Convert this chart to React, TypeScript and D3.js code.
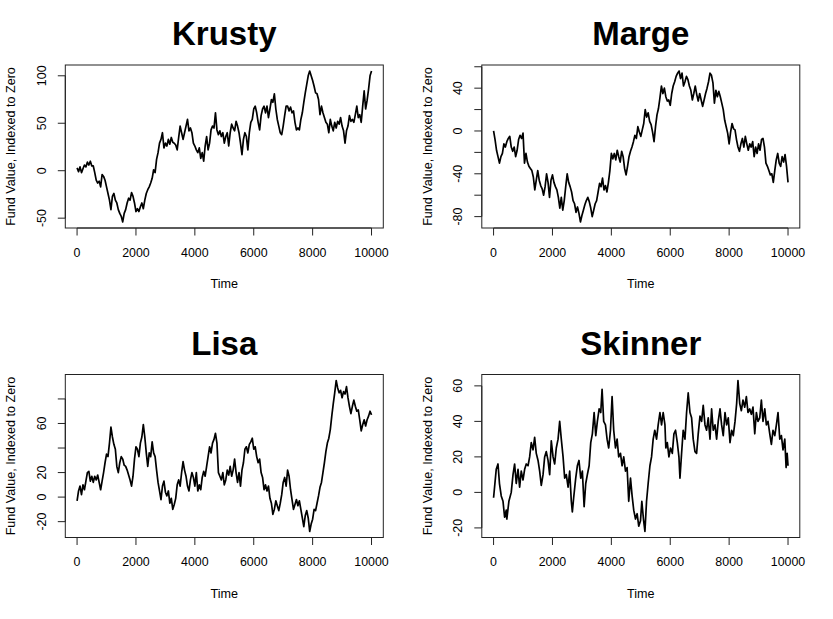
import { useEffect, useRef } from 'react';
import * as d3 from 'd3';

const krusty = [
  3, -1, 4, -2, 2, 6, 4, 9, 6, 10,
  5, 5, -2, -10, -13, -11, -17, -4, -6, -10,
  -17, -24, -31, -41, -27, -24, -31, -34, -41, -45,
  -48, -54, -45, -41, -34, -29, -31, -23, -27, -34,
  -43, -40, -43, -38, -34, -40, -31, -24, -20, -17,
  -13, -8, 1, -2, 12, 19, 29, 33, 40, 24,
  29, 26, 33, 28, 35, 30, 29, 27, 22, 35,
  47, 40, 33, 40, 47, 54, 42, 45, 40, 29,
  26, 22, 19, 24, 13, 19, 10, 26, 36, 22,
  29, 43, 47, 45, 61, 43, 38, 42, 36, 40,
  29, 36, 40, 26, 40, 49, 45, 42, 52, 47,
  40, 29, 17, 33, 40, 36, 22, 40, 51, 54,
  65, 68, 61, 51, 43, 58, 65, 68, 61, 68,
  56, 65, 75, 72, 81, 65, 54, 47, 40, 38,
  47, 58, 68, 68, 63, 67, 61, 63, 51, 43,
  45, 43, 54, 61, 72, 82, 91, 100, 105, 100,
  95, 89, 82, 81, 75, 59, 68, 61, 56, 51,
  49, 40, 54, 47, 42, 51, 45, 52, 49, 56,
  47, 42, 29, 42, 47, 58, 52, 54, 51, 59,
  68, 56, 59, 51, 68, 84, 65, 74, 86, 100,
  105,
];

const marge = [
  0, -8, -18, -24, -30, -24, -21, -12, -15, -10,
  -7, -5, -15, -19, -15, -24, -18, -8, -4, -7,
  -2, -30, -21, -29, -33, -35, -37, -43, -55, -46,
  -37, -46, -51, -54, -60, -52, -40, -48, -62, -46,
  -41, -48, -52, -55, -62, -72, -62, -74, -65, -52,
  -40, -48, -52, -57, -65, -68, -76, -71, -77, -85,
  -79, -74, -69, -65, -62, -66, -72, -80, -74, -68,
  -65, -57, -49, -52, -44, -55, -51, -57, -48, -37,
  -21, -26, -21, -27, -18, -24, -29, -19, -24, -35,
  -41, -33, -24, -19, -15, -10, -4, -7, 4, -1,
  -5, 1, 7, 20, 13, 17, 9, 6, -1, -10,
  4, 15, 21, 31, 42, 35, 40, 32, 28, 29,
  24, 35, 42, 46, 51, 54, 56, 49, 54, 42,
  46, 51, 48, 42, 38, 29, 35, 42, 34, 28,
  35, 29, 23, 29, 35, 40, 46, 54, 52, 45,
  26, 38, 32, 37, 32, 26, 20, 10, 4, -2,
  -12, -1, 7, 2, 1, -8, -15, -19, -12, -7,
  -15, -5, -12, -18, -12, -15, -10, -24, -15, -21,
  -12, -18, -8, -7, -15, -30, -33, -37, -41, -40,
  -48, -37, -27, -21, -30, -33, -24, -29, -22, -33,
  -48,
];

const lisa = [
  -3, 5, 9, 2, 10, 6, 13, 20, 21, 13,
  17, 12, 17, 14, 18, 12, 6, 13, 20, 28,
  35, 33, 44, 57, 49, 43, 39, 25, 20, 28,
  33, 31, 26, 25, 22, 18, 14, 9, 17, 31,
  41, 39, 33, 44, 49, 59, 49, 36, 25, 36,
  33, 45, 36, 33, 22, 12, 5, -2, 9, 13,
  4, 1, 5, -5, -1, -10, -6, -1, 10, 14,
  9, 20, 29, 22, 17, 9, 5, 14, 20, 16,
  9, 20, 5, 10, 6, 16, 21, 17, 25, 33,
  41, 36, 44, 47, 52, 44, 20, 17, 14, 20,
  10, 14, 22, 18, 25, 17, 22, 31, 20, 12,
  20, 9, 22, 28, 39, 41, 36, 43, 45, 48,
  39, 41, 33, 28, 31, 20, 16, 6, 10, 5,
  9, -1, -5, -14, -10, -3, -7, -11, -5, 2,
  12, 16, 9, 22, 17, 6, -2, -10, -6, -2,
  -7, -3, -10, -17, -24, -15, -11, -17, -28, -22,
  -18, -10, -11, -5, 1, 8, 12, 20, 28, 37,
  44, 48, 55, 66, 76, 85, 95, 89, 85, 87,
  81, 86, 84, 90, 81, 74, 68, 74, 79, 74,
  70, 71, 63, 54, 59, 63, 58, 63, 66, 70,
  67,
];

// [time, value]
const skinner: [number, number][] = [
  [0, -3], [90, 13], [150, 16], [200, 5], [260, -2], [320, -5], [375, -14], [430, -10], [450, -15], [520, -5],
  [600, 0], [660, 10], [715, 16], [770, 5], [830, 13], [885, 3], [940, 12], [1000, 7], [1055, 13], [1110, 16],
  [1170, 15], [1225, 20], [1280, 28], [1340, 24], [1395, 31], [1450, 22], [1510, 18], [1565, 12], [1620, 4], [1680, 10],
  [1735, 20], [1790, 23], [1850, 18], [1905, 10], [1960, 29], [2020, 20], [2075, 16], [2130, 25], [2190, 30], [2245, 40],
  [2300, 30], [2360, 20], [2415, 8], [2470, 10], [2530, 3], [2585, 12], [2640, -5], [2675, -11], [2720, -3], [2790, 8],
  [2845, 15], [2900, 18], [2960, 8], [3015, 12], [3075, -8], [3130, 5], [3185, 10], [3245, 15], [3300, 28], [3355, 33],
  [3415, 45], [3470, 32], [3525, 40], [3585, 47], [3640, 45], [3685, 58], [3740, 40], [3800, 38], [3855, 30], [3910, 25],
  [3970, 35], [4025, 54], [4080, 35], [4140, 25], [4195, 30], [4250, 20], [4310, 22], [4365, 15], [4420, 20], [4480, 12],
  [4535, 14], [4590, -5], [4650, 8], [4705, -2], [4760, -10], [4820, -15], [4875, -12], [4930, -19], [4990, -16], [5035, -5],
  [5090, -15], [5140, -22], [5195, -5], [5250, 5], [5310, 15], [5365, 20], [5420, 30], [5475, 35], [5535, 30], [5590, 38],
  [5650, 45], [5705, 38], [5760, 45], [5820, 38], [5850, 25], [5900, 28], [5955, 20], [6010, 25], [6070, 22], [6125, 33],
  [6180, 35], [6240, 28], [6295, 20], [6330, 8], [6385, 22], [6440, 35], [6500, 30], [6555, 45], [6610, 56], [6670, 45],
  [6725, 42], [6780, 30], [6840, 23], [6895, 22], [6950, 33], [7010, 43], [7065, 40], [7120, 49], [7180, 38], [7235, 35],
  [7290, 42], [7350, 30], [7405, 47], [7460, 35], [7520, 38], [7575, 30], [7630, 40], [7690, 47], [7745, 38], [7800, 32],
  [7860, 45], [7915, 38], [7970, 42], [8030, 28], [8085, 35], [8140, 32], [8200, 40], [8255, 50], [8300, 63], [8360, 50],
  [8415, 46], [8470, 52], [8530, 48], [8585, 54], [8640, 45], [8700, 47], [8755, 44], [8810, 48], [8870, 33], [8925, 45],
  [8980, 40], [9040, 42], [9095, 52], [9150, 40], [9210, 47], [9265, 38], [9320, 40], [9380, 33], [9435, 27], [9490, 35],
  [9550, 32], [9605, 38], [9660, 45], [9720, 30], [9775, 32], [9830, 24], [9890, 30], [9935, 14], [9970, 22], [10000, 15],
];

const xTicks = [0, 2000, 4000, 6000, 8000, 10000];

// R drops some labels when they would collide
const krustyTicks = [-50, 0, 50, 100];
const krustyLabels = [-50, 0, 50, 100];
const margeTicks = [-80, -60, -40, -20, 0, 20, 40, 60];
const margeLabels = [-80, -40, 0, 40];
const lisaTicks = [-20, 0, 20, 40, 60, 80];
const lisaLabels = [-20, 0, 20, 60];
const skinnerTicks = [-20, 0, 20, 40, 60];
const skinnerLabels = [-20, 0, 20, 40, 60];

const width = 833;
const height = 619;
const cellW = width / 2;
const cellH = height / 2;
const margin = { top: 65, right: 33.2, bottom: 81.5, left: 65.3 };
const font = '"Liberation Sans", Arial, Helvetica, sans-serif';

const byIndex = (vals: number[]): [number, number][] =>
  vals.map((v, i) => [(i * 10000) / (vals.length - 1), v]);

const panels = [
  { name: 'Krusty', points: byIndex(krusty), ticks: krustyTicks, labels: krustyLabels },
  { name: 'Marge', points: byIndex(marge), ticks: margeTicks, labels: margeLabels },
  { name: 'Lisa', points: byIndex(lisa), ticks: lisaTicks, labels: lisaLabels },
  { name: 'Skinner', points: skinner, ticks: skinnerTicks, labels: skinnerLabels },
];

// R pads the data range by 4% on each side
const padded = (ext: [number, number]) => {
  const d = (ext[1] - ext[0]) * 0.04;
  return [ext[0] - d, ext[1] + d];
};

export default function App() {
  const ref = useRef<SVGSVGElement>(null);

  useEffect(() => {
    document.body.style.margin = '0';
    const svg = d3.select(ref.current);
    svg.selectAll('*').remove();

    panels.forEach((p, idx) => {
      const ox = (idx % 2) * cellW;
      const oy = Math.floor(idx / 2) * cellH;
      const x0 = ox + margin.left;
      const x1 = ox + cellW - margin.right;
      const y0 = oy + margin.top;
      const y1 = oy + cellH - margin.bottom;
      const cx = (x0 + x1) / 2;

      const x = d3
        .scaleLinear()
        .domain(padded(d3.extent(p.points, d => d[0]) as [number, number]))
        .range([x0, x1]);
      const y = d3
        .scaleLinear()
        .domain(padded(d3.extent(p.points, d => d[1]) as [number, number]))
        .range([y1, y0]);

      const g = svg.append('g').style('font-family', font);

      g.append('text')
        .attr('x', cx)
        .attr('y', oy + 45)
        .attr('text-anchor', 'middle')
        .style('font-size', '33px')
        .style('font-weight', 700)
        .text(p.name);

      const line = d3
        .line<[number, number]>()
        .x(d => x(d[0]))
        .y(d => y(d[1]));

      g.append('path')
        .datum(p.points)
        .attr('d', line)
        .attr('fill', 'none')
        .attr('stroke', '#000')
        .attr('stroke-width', 1.7)
        .attr('stroke-linejoin', 'round');

      g.append('rect')
        .attr('x', x0)
        .attr('y', y0)
        .attr('width', x1 - x0)
        .attr('height', y1 - y0)
        .attr('fill', 'none')
        .attr('stroke', '#222')
        .attr('stroke-width', 1);

      // x axis
      g.append('line')
        .attr('x1', x(xTicks[0]))
        .attr('x2', x(xTicks[xTicks.length - 1]))
        .attr('y1', y1)
        .attr('y2', y1)
        .attr('stroke', '#222');
      g.selectAll('.xt')
        .data(xTicks)
        .join('line')
        .attr('x1', d => x(d))
        .attr('x2', d => x(d))
        .attr('y1', y1)
        .attr('y2', y1 + 7.5)
        .attr('stroke', '#222');
      g.selectAll('.xl')
        .data(xTicks)
        .join('text')
        .attr('x', d => x(d))
        .attr('y', y1 + 28.8)
        .attr('text-anchor', 'middle')
        .style('font-size', '12.4px')
        .text(d => String(d));

      g.append('text')
        .attr('x', cx)
        .attr('y', y1 + 60)
        .attr('text-anchor', 'middle')
        .style('font-size', '12.6px')
        .text('Time');

      // y axis
      const yt = p.ticks;
      g.append('line')
        .attr('x1', x0)
        .attr('x2', x0)
        .attr('y1', y(yt[0]))
        .attr('y2', y(yt[yt.length - 1]))
        .attr('stroke', '#222');
      g.selectAll('.yt')
        .data(yt)
        .join('line')
        .attr('x1', x0 - 7.5)
        .attr('x2', x0)
        .attr('y1', d => y(d))
        .attr('y2', d => y(d))
        .attr('stroke', '#222');
      g.selectAll('.yl')
        .data(p.labels)
        .join('text')
        .attr('transform', d => `translate(${x0 - 19.5},${y(d)}) rotate(-90)`)
        .attr('text-anchor', 'middle')
        .style('font-size', '12.4px')
        .text(d => String(d));

      g.append('text')
        .attr('transform', `translate(${ox + 15},${(y0 + y1) / 2}) rotate(-90)`)
        .attr('text-anchor', 'middle')
        .style('font-size', '12.6px')
        .text('Fund Value, Indexed to Zero');
    });
  }, []);

  return (
    <svg
      ref={ref}
      width={width}
      height={height}
      style={{ display: 'block', background: '#fff' }}
    />
  );
}
